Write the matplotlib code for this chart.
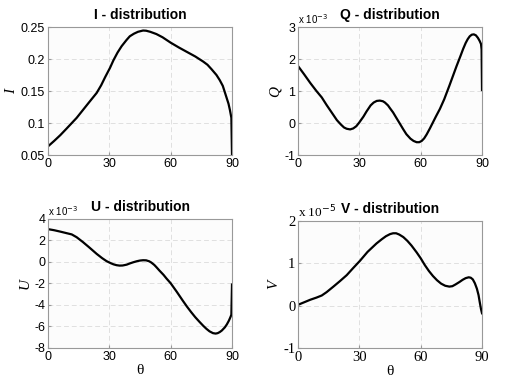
import numpy as np
import matplotlib.pyplot as plt

theta_i = [0, 3, 6, 9, 11.5, 14, 17, 20, 23.8, 26, 28, 30.3, 32, 34, 36, 38.4, 40, 42, 44, 46.5, 48, 50, 53, 56, 60, 64, 67.7, 72, 75.9, 78, 80, 82.4, 84, 85.5, 87.2, 88.3, 89, 89.7, 90]
val_i = [0.0635, 0.072, 0.081, 0.091, 0.0995, 0.108, 0.12, 0.132, 0.147, 0.159, 0.172, 0.186, 0.198, 0.21, 0.22, 0.2297, 0.2355, 0.2395, 0.2425, 0.2445, 0.2442, 0.2425, 0.239, 0.234, 0.2255, 0.218, 0.2115, 0.204, 0.196, 0.191, 0.184, 0.175, 0.167, 0.158, 0.141, 0.13, 0.12, 0.108, 0.05]

theta_q = [0, 3, 6, 9, 11.6, 14, 17.3, 19, 21, 22.5, 23.8, 25.5, 27, 28.5, 30, 32, 33.5, 35.5, 37, 38.5, 40, 41.5, 42.5, 44, 45, 46.5, 48, 50, 51.5, 53, 55, 56.5, 58, 59.3, 60.5, 61.7, 62.9, 64.5, 66, 67.5, 69.4, 71.5, 74, 77.5, 79.5, 80.8, 82, 83, 84, 85, 86, 87, 88, 88.8, 89.5, 89.8, 90]
val_q = [1.78, 1.52, 1.25, 1.0, 0.8, 0.56, 0.25, 0.09, -0.05, -0.14, -0.18, -0.2, -0.17, -0.1, 0.02, 0.2, 0.36, 0.55, 0.64, 0.69, 0.70, 0.68, 0.64, 0.55, 0.46, 0.33, 0.17, -0.04, -0.2, -0.35, -0.49, -0.56, -0.6, -0.6, -0.56, -0.48, -0.36, -0.17, 0.02, 0.21, 0.44, 0.74, 1.16, 1.77, 2.1, 2.32, 2.5, 2.62, 2.71, 2.76, 2.77, 2.74, 2.66, 2.57, 2.47, 2.3, 1.03]

theta_u = [0, 3, 6, 9, 11.6, 14, 17, 20, 23.8, 26.5, 28.6, 30.5, 32, 33.5, 35, 36.5, 38.5, 40, 41.7, 43.5, 45, 46.5, 48, 49.5, 50.5, 52, 53, 54.5, 56.5, 58, 60, 63, 66, 68, 70, 72, 74, 76, 77.5, 79, 80.7, 82, 83, 84, 85, 86.5, 87.5, 88.5, 89.3, 89.7, 90]
val_u = [3.05, 2.95, 2.82, 2.68, 2.56, 2.3, 1.86, 1.38, 0.75, 0.35, 0.08, -0.1, -0.22, -0.3, -0.34, -0.33, -0.25, -0.14, -0.03, 0.07, 0.13, 0.16, 0.15, 0.06, -0.05, -0.28, -0.48, -0.8, -1.2, -1.55, -1.98, -2.78, -3.62, -4.16, -4.66, -5.13, -5.55, -5.95, -6.22, -6.45, -6.62, -6.66, -6.62, -6.52, -6.38, -6.08, -5.8, -5.45, -5.1, -4.9, -2.1]

theta_v = [0, 3, 6, 9, 11.6, 14, 17.3, 20.5, 23.8, 27, 30.3, 34, 38.4, 41, 43, 45, 46.5, 48, 49.5, 51.5, 53.5, 55.5, 58, 60, 62, 64, 66, 68, 70, 72, 74, 75.5, 77, 79, 80.5, 82, 83.5, 84.5, 85.5, 86.5, 87.5, 88.3, 88.9, 89.5, 90]
val_v = [0.02, 0.08, 0.14, 0.19, 0.24, 0.32, 0.45, 0.58, 0.72, 0.89, 1.06, 1.27, 1.47, 1.57, 1.64, 1.69, 1.71, 1.71, 1.68, 1.62, 1.53, 1.42, 1.26, 1.12, 0.96, 0.82, 0.7, 0.6, 0.52, 0.47, 0.45, 0.46, 0.5, 0.56, 0.61, 0.65, 0.67, 0.66, 0.62, 0.53, 0.4, 0.25, 0.08, -0.08, -0.18]

serif = 'Liberation Serif'
sans = 'Liberation Sans'

fig = plt.figure(figsize=(5.06, 3.83), dpi=100)
pos = {
    'I': [0.0949, 0.5953, 0.3636, 0.3342],
    'Q': [0.589, 0.5953, 0.3636, 0.3342],
    'U': [0.0949, 0.0914, 0.3636, 0.337],
    'V': [0.589, 0.0914, 0.3636, 0.3316],
}
panels = [
    ('I', theta_i, val_i, (0.05, 0.25), [0.05, 0.1, 0.15, 0.2, 0.25], ['0.05', '0.1', '0.15', '0.2', '0.25'], None, sans),
    ('Q', theta_q, val_q, (-1, 3), [-1, 0, 1, 2, 3], ['-1', '0', '1', '2', '3'], '-3', sans),
    ('U', theta_u, val_u, (-8, 4), [-8, -6, -4, -2, 0, 2, 4], ['-8', '-6', '-4', '-2', '0', '2', '4'], '-3', sans),
    ('V', theta_v, val_v, (-1, 2), [-1, 0, 1, 2], ['-1', '0', '1', '2'], '-5', serif),
]

for name, x, y, ylim, yt, ytl, expo, tfont in panels:
    ax = fig.add_axes(pos[name])
    ax.set_facecolor('#fcfcfc')
    ax.plot(x, y, color='black', lw=1.6)
    ax.set_xlim(0, 90)
    ax.set_ylim(*ylim)
    ax.set_xticks([0, 30, 60, 90])
    ax.set_yticks(yt)
    fs = 10.5 if tfont == serif else 9
    ax.set_xticklabels(['0', '30', '60', '90'], family=tfont, fontsize=fs)
    ax.set_yticklabels(ytl, family=tfont, fontsize=fs)
    ax.grid(True, ls=(0, (5, 3)), color='#e0e0e0', lw=0.7)
    for s in ax.spines.values():
        s.set_color('#999999')
        s.set_linewidth(0.8)
    ax.tick_params(direction='in', length=2, color='#999999', pad=2)
    ax.set_title(name + ' - distribution', family=sans, fontweight='bold', fontsize=10, pad=6)
    ax.set_ylabel(name, family=serif, style='italic', fontsize=11, labelpad=2)
    if name in ('U', 'V'):
        ax.set_xlabel('θ', family=serif, fontsize=11, labelpad=1)
    if expo:
        if tfont == serif:
            ax.text(0.0, 1.005, 'x 10$^{' + expo + '}$', transform=ax.transAxes, family=serif,
                    fontsize=9.5, va='bottom', ha='left')
        else:
            ax.text(0.0, 1.005, 'x 10$^{' + expo + '}$', transform=ax.transAxes, family=sans,
                    fontsize=7, va='bottom', ha='left')

fig.savefig('out.png', dpi=100)
